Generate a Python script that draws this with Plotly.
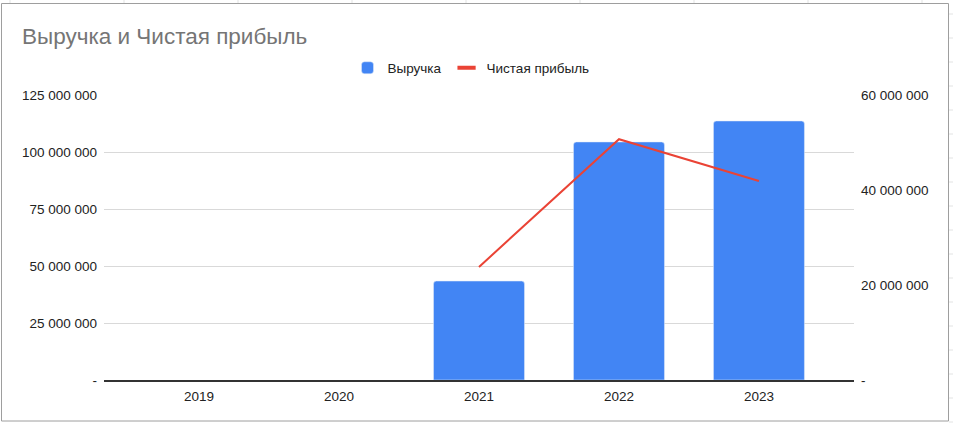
import plotly.graph_objects as go

years = ["2019", "2020", "2021", "2022", "2023"]
revenue = [None, None, 43400000, 104400000, 113600000]
net_profit = [None, None, 23800000, 50700000, 41900000]

left_ticks = [0, 25000000, 50000000, 75000000, 100000000, 125000000]
left_labels = ["-", "25 000 000", "50 000 000", "75 000 000", "100 000 000", "125 000 000"]
right_ticks = [0, 20000000, 40000000, 60000000]
right_labels = ["-", "20 000 000", "40 000 000", "60 000 000"]

W, H = 953, 423
L, R, T, B = 104, 99, 95, 43
PW, PH = W - L - R, H - T - B

def px(x):
    return (x - L) / PW

def py(y):
    return (H - B - y) / PH

FONT = "Liberation Sans, Arial, sans-serif"
RED = "#EA4335"
TICK = dict(size=13.5, color="#222222")

fig = go.Figure()
fig.add_trace(go.Bar(x=years, y=revenue, name="Выручка", marker=dict(color="#4285F4"), yaxis="y"))
fig.add_trace(go.Scatter(x=years, y=net_profit, name="Чистая прибыль", mode="lines",
                         line=dict(color=RED, width=2), yaxis="y2", showlegend=False,
                         legendgroup="np"))
# legend entry with a short dash symbol, as in the reference
fig.add_trace(go.Scatter(x=[None], y=[None], name="Чистая прибыль", mode="markers",
                         marker=dict(symbol="line-ew", size=13, color=RED, line=dict(color=RED, width=4)),
                         yaxis="y2", legendgroup="np", hoverinfo="skip"))

shapes = []
# spreadsheet grid behind the chart
for gx in [10, 124, 238, 352, 466, 580, 694, 808, 922]:
    shapes.append(dict(type="line", xref="paper", yref="paper", x0=px(gx), x1=px(gx),
                       y0=py(0), y1=py(3), line=dict(color="#e2e3e3", width=1), layer="below"))
for k in range(18):
    gy = 14 + 24 * k
    shapes.append(dict(type="line", xref="paper", yref="paper", x0=px(949), x1=px(953),
                       y0=py(gy), y1=py(gy), line=dict(color="#e2e3e3", width=1), layer="below"))
# chart border
shapes.append(dict(type="rect", xref="paper", yref="paper", x0=px(1.5), x1=px(948.5),
                   y0=py(421), y1=py(3.5), line=dict(color="#9e9e9e", width=1), fillcolor="rgba(0,0,0,0)",
                   layer="below"))

fig.update_layout(
    width=W, height=H,
    margin=dict(l=L, r=R, t=T, b=B, pad=0),
    paper_bgcolor="white", plot_bgcolor="white",
    font=dict(family=FONT, size=13.5, color="#222222"),
    title=dict(text="Выручка и Чистая прибыль", x=22 / W, xanchor="left", xref="container",
               y=1 - 36 / H, yanchor="middle", yref="container",
               font=dict(family=FONT, size=22.5, color="#757575")),
    legend=dict(orientation="h", x=px(471), xanchor="center", y=py(68), yanchor="middle",
                font=dict(family=FONT, size=13.5, color="#222222"), bgcolor="rgba(0,0,0,0)",
                itemwidth=30),
    bargap=0.35,
    barcornerradius=3,
    xaxis=dict(type="category", range=[-0.679, 4.679], showgrid=False, showline=True,
               linecolor="#333333", linewidth=1.5, ticks="", tickfont=TICK,
               ticklabelstandoff=3),
    yaxis=dict(range=[0, 125000000], tickvals=left_ticks, ticktext=left_labels, showgrid=True,
               gridcolor="#d9d9d9", gridwidth=1, zeroline=False, showline=False, ticks="",
               tickfont=TICK, ticklabelstandoff=6),
    yaxis2=dict(range=[0, 60000000], tickvals=right_ticks, ticktext=right_labels, overlaying="y",
                side="right", showgrid=False, zeroline=False, showline=False, ticks="",
                tickfont=TICK, ticklabelstandoff=6),
    shapes=shapes,
)

fig.write_html("out.html")
